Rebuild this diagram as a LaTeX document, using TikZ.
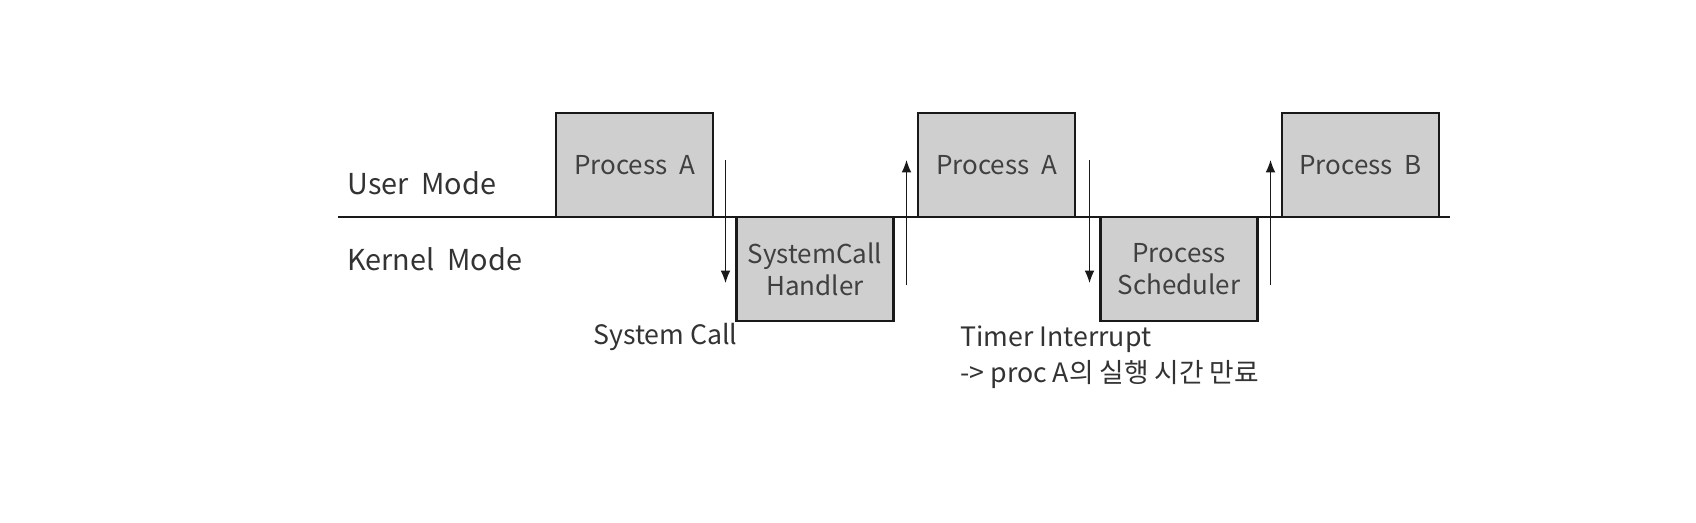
\documentclass[tikz,border=0pt]{standalone}
\usepackage{fontspec}
\setmainfont{Noto Sans CJK KR}
\usetikzlibrary{arrows.meta}

\begin{document}
\begin{tikzpicture}[
    procbox/.style={draw=black!90,fill=black!19,line width=1.2pt,minimum width=3.14cm,minimum height=2.08cm,inner sep=0pt,align=center,text=black!75,font=\fontsize{14.8}{18.2}\selectfont},
    modelabel/.style={anchor=west,inner sep=0pt,text=black!80,font=\fontsize{16.4}{19}\selectfont},
    eventlabel/.style={anchor=west,inner sep=0pt,align=left,text=black!80,font=\fontsize{15.2}{20.4}\selectfont},
    switcharrow/.style={-{Latex[length=7pt,width=5.5pt]},line width=0.6pt,black!90}]
        \useasboundingbox (0,0) rectangle (33.92,10.44);
        \coordinate (L0) at (6.76,6.10);
        \coordinate (L1) at (29.00,6.10);
        \draw[line width=1.2pt,black!90] (L0) -- (L1);
        \node[modelabel] (user) at (6.94,6.78) {User\ \ Mode};
        \node[modelabel] (kernel) at (6.94,5.26) {Kernel\ \ Mode};
        \node[procbox] (PA1) at (12.69,7.14) {Process\ \ A};
        \node[procbox] (SCH) at (16.30,5.06) {SystemCall\\Handler};
        \node[procbox] (PA2) at (19.93,7.14) {Process\ \ A};
        \node[procbox] (SCD) at (23.58,5.06) {Process\\Scheduler};
        \node[procbox] (PB) at (27.21,7.14) {Process\ \ B};
        \coordinate (D1a) at (14.51,7.24);
        \coordinate (D1b) at (14.51,4.78);
        \coordinate (U1a) at (18.13,4.74);
        \coordinate (U1b) at (18.13,7.24);
        \coordinate (D2a) at (21.79,7.24);
        \coordinate (D2b) at (21.79,4.78);
        \coordinate (U2a) at (25.41,4.74);
        \coordinate (U2b) at (25.41,7.24);
        \draw[switcharrow] (D1a) -- (D1b);
        \draw[switcharrow] (U1a) -- (U1b);
        \draw[switcharrow] (D2a) -- (D2b);
        \draw[switcharrow] (U2a) -- (U2b);
        \node[eventlabel] (syscall) at (11.86,3.70) {System\ Call};
        \node[eventlabel] (timer) at (19.20,3.30) {Timer Interrupt\\->\ proc A의 실행 시간 만료};
      \end{tikzpicture}
\end{document}
